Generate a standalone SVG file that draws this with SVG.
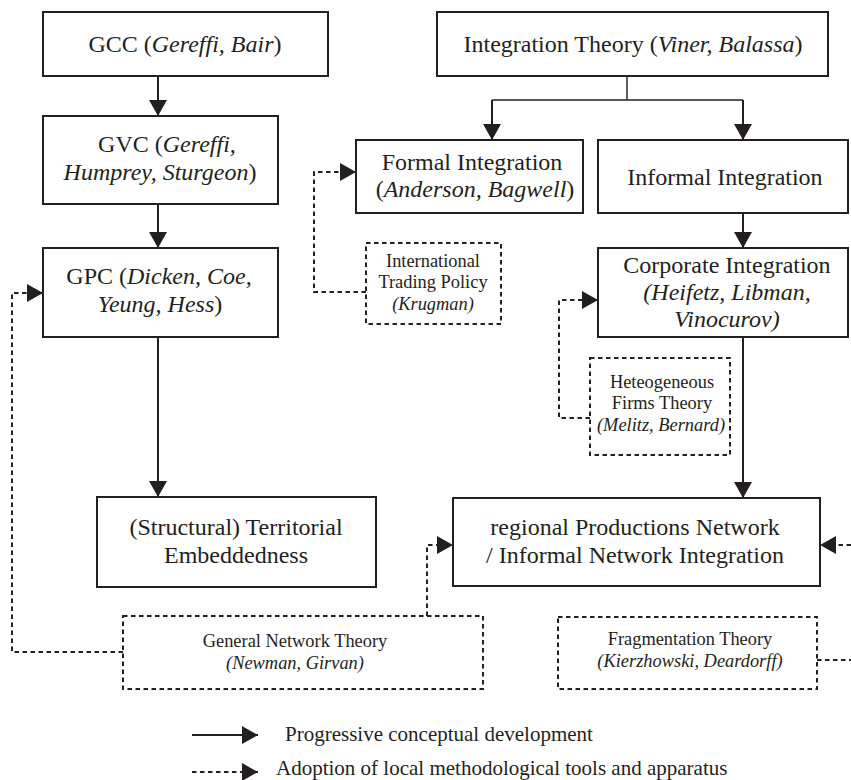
<svg xmlns="http://www.w3.org/2000/svg" width="851" height="780" viewBox="0 0 851 780">
<defs>
<style>
.box{fill:#fff;stroke:#231f20;stroke-width:2}
.dbox{fill:#fff;stroke:#231f20;stroke-width:2;stroke-dasharray:4.5 3.5}
.t{font-family:"Liberation Serif","Times New Roman",serif;font-size:24px;fill:#231f20;text-anchor:middle}
.s{font-family:"Liberation Serif","Times New Roman",serif;font-size:18.4px;fill:#231f20;text-anchor:middle}
.l{font-family:"Liberation Serif","Times New Roman",serif;font-size:21px;fill:#231f20}
.i{font-style:italic}
.solid{fill:none;stroke:#231f20;stroke-width:2}
.thin{fill:none;stroke:#231f20;stroke-width:1.4}
.dash{fill:none;stroke:#231f20;stroke-width:2;stroke-dasharray:4.5 3.5}
</style>
<marker id="ah" viewBox="0 0 16 18" refX="16" refY="9" markerWidth="16" markerHeight="18" markerUnits="userSpaceOnUse" orient="auto">
<path d="M0,0 L16,9 L0,18 Z" fill="#231f20"/>
</marker>
</defs>
<rect width="851" height="780" fill="#fff"/>

<g id="connectors">
<path class="solid" d="M158,76 V116" marker-end="url(#ah)"/>
<path class="solid" d="M158,204 V248" marker-end="url(#ah)"/>
<path class="solid" d="M158,337 V497" marker-end="url(#ah)"/>
<path class="thin" d="M627,76 V100 M492,100 H743"/>
<path class="solid" d="M492,100 V140" marker-end="url(#ah)"/>
<path class="solid" d="M743,100 V140" marker-end="url(#ah)"/>
<path class="solid" d="M743,213 V248" marker-end="url(#ah)"/>
<path class="solid" d="M743,337 V498" marker-end="url(#ah)"/>
<path class="dash" d="M366,292 H314 V172 H356" marker-end="url(#ah)"/>
<path class="dash" d="M590,418 H559 V300 H598" marker-end="url(#ah)"/>
<path class="dash" d="M123,652 H12 V293 H43" marker-end="url(#ah)"/>
<path class="dash" d="M427,616 V545 H453" marker-end="url(#ah)"/>
<path class="dash" d="M851,545 H820" marker-end="url(#ah)"/>
<path class="dash" d="M817,660 H851"/>
<path class="solid" d="M192,735 H258" marker-end="url(#ah)"/>
<path class="dash" d="M192,772 H258" marker-end="url(#ah)"/>
</g>

<g id="gcc">
<rect class="box" x="43" y="12" width="285" height="64"/>
<text class="t" x="185" y="52">GCC (<tspan class="i">Gereffi, Bair</tspan>)</text>
</g>
<g id="gvc">
<rect class="box" x="43" y="116" width="235" height="88"/>
<text class="t" x="167" y="152">GVC (<tspan class="i">Gereffi,</tspan></text>
<text class="t" x="160" y="180"><tspan class="i">Humprey, Sturgeon</tspan>)</text>
</g>
<g id="gpc">
<rect class="box" x="43" y="248" width="235" height="89"/>
<text class="t" x="159" y="284">GPC (<tspan class="i">Dicken, Coe,</tspan></text>
<text class="t" x="160" y="312"><tspan class="i">Yeung, Hess</tspan>)</text>
</g>
<g id="territorial">
<rect class="box" x="97" y="497" width="279" height="90"/>
<text class="t" x="236" y="535">(Structural) Territorial</text>
<text class="t" x="236" y="563">Embeddedness</text>
</g>
<g id="integration">
<rect class="box" x="437" y="12" width="391" height="64"/>
<text class="t" x="633" y="52">Integration Theory (<tspan class="i">Viner, Balassa</tspan>)</text>
</g>
<g id="formal">
<rect class="box" x="356" y="140" width="227" height="73"/>
<text class="t" x="472" y="170">Formal Integration</text>
<text class="t" x="475" y="197">(<tspan class="i">Anderson, Bagwell</tspan>)</text>
</g>
<g id="informal">
<rect class="box" x="598" y="140" width="250" height="73"/>
<text class="t" x="725" y="185">Informal Integration</text>
</g>
<g id="corporate">
<rect class="box" x="598" y="248" width="250" height="89"/>
<text class="t" x="727" y="273">Corporate Integration</text>
<text class="t i" x="727" y="300">(Heifetz, Libman,</text>
<text class="t i" x="727" y="327">Vinocurov)</text>
</g>
<g id="international">
<rect class="dbox" x="366" y="243" width="135" height="81"/>
<text class="s" x="433" y="267">International</text>
<text class="s" x="433" y="288">Trading Policy</text>
<text class="s i" x="433" y="310">(Krugman)</text>
</g>
<g id="heterogeneous">
<rect class="dbox" x="590" y="358" width="140" height="97"/>
<text class="s" x="662" y="388">Heteogeneous</text>
<text class="s" x="662" y="409">Firms Theory</text>
<text class="s i" x="661" y="431">(Melitz, Bernard)</text>
</g>
<g id="regional">
<rect class="box" x="453" y="498" width="367" height="88"/>
<text class="t" x="635" y="535">regional Productions Network</text>
<text class="t" x="635" y="563">/ Informal Network Integration</text>
</g>
<g id="general-network">
<rect class="dbox" x="123" y="616" width="360" height="73"/>
<text class="s" x="295" y="647">General Network Theory</text>
<text class="s i" x="295" y="669">(Newman, Girvan)</text>
</g>
<g id="fragmentation">
<rect class="dbox" x="558" y="617" width="259" height="72"/>
<text class="s" x="690" y="645">Fragmentation Theory</text>
<text class="s i" x="690" y="667">(Kierzhowski, Deardorff)</text>
</g>
<g id="legend">
<text class="l" x="285" y="741">Progressive conceptual development</text>
<text class="l" x="276" y="775">Adoption of local methodological tools and apparatus</text>
</g>
</svg>
